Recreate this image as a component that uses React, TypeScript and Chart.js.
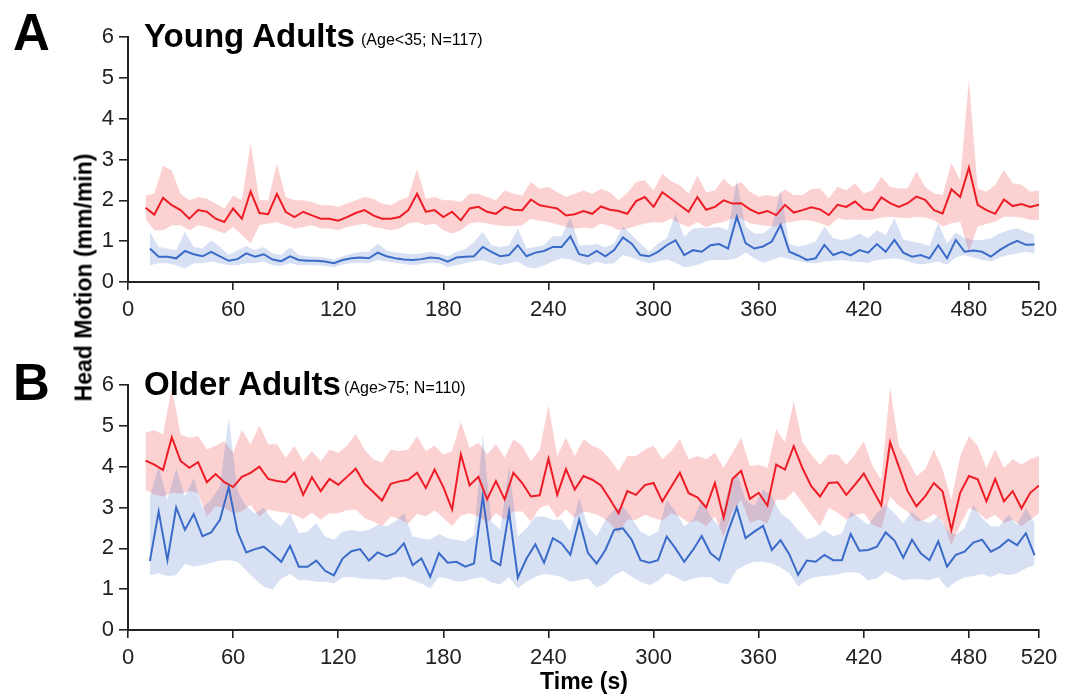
import React, { useEffect, useRef } from "react";
import { Chart, registerables } from "chart.js";

Chart.register(...registerables);

// ---------- sampling grid (seconds) ----------
const SAMPLE_STEP_S = 5;
const RED_START_S = 10;
const BLUE_START_S = 12.5;

const X_TICKS = [0, 60, 120, 180, 240, 300, 360, 420, 480, 520];
const Y_TICKS = [0, 1, 2, 3, 4, 5, 6];

// ---------- Panel A: Young Adults ----------
const A_RED_MEAN = [
  1.82, 1.65, 2.06, 1.88, 1.76, 1.55, 1.76, 1.72, 1.55, 1.47,
  1.80, 1.55, 2.22, 1.69, 1.66, 2.16, 1.72, 1.59, 1.72, 1.63,
  1.55, 1.55, 1.50, 1.59, 1.69, 1.76, 1.63, 1.55, 1.55, 1.59,
  1.76, 2.16, 1.72, 1.76, 1.59, 1.72, 1.51, 1.80, 1.84, 1.72,
  1.67, 1.84, 1.77, 1.76, 2.02, 1.88, 1.84, 1.80, 1.63, 1.66,
  1.74, 1.67, 1.85, 1.77, 1.74, 1.67, 1.98, 2.08, 1.84, 2.20,
  2.04, 1.88, 1.72, 2.08, 1.77, 1.84, 2.00, 1.92, 1.93, 1.78,
  1.68, 1.74, 1.64, 1.89, 1.70, 1.76, 1.83, 1.78, 1.64, 1.89,
  1.84, 1.97, 1.78, 1.76, 2.07, 1.93, 1.84, 1.93, 2.09, 2.01,
  1.76, 1.68, 2.27, 2.08, 2.80, 1.89, 1.76, 1.67, 2.02, 1.86,
  1.91, 1.84, 1.89,
];
const A_RED_UPPER = [
  2.12, 2.16, 2.85, 2.73, 2.16, 2.00, 2.08, 2.04, 1.92, 1.80,
  2.12, 2.00, 3.40, 2.00, 2.00, 2.90, 2.08, 2.00, 2.00, 1.96,
  1.88, 1.88, 1.84, 1.92, 2.00, 2.08, 2.04, 1.92, 1.88, 2.00,
  2.08, 2.77, 2.04, 2.08, 2.00, 2.00, 1.96, 2.16, 2.16, 2.08,
  2.00, 2.24, 2.16, 2.12, 2.45, 2.28, 2.33, 2.20, 2.08, 2.16,
  2.24, 2.16, 2.28, 2.20, 2.00, 2.18, 2.45, 2.49, 2.24, 2.65,
  2.47, 2.37, 2.16, 2.61, 2.20, 2.24, 2.53, 2.33, 2.45, 2.21,
  2.09, 2.13, 2.09, 2.27, 2.13, 2.13, 2.28, 2.29, 2.05, 2.33,
  2.25, 2.42, 2.17, 2.25, 2.58, 2.33, 2.29, 2.29, 2.70, 2.33,
  2.17, 2.13, 2.91, 2.50, 4.95, 2.29, 2.21, 2.38, 2.74, 2.42,
  2.38, 2.21, 2.25,
];
const A_RED_LOWER = [
  1.55, 1.27, 1.27, 1.39, 1.39, 1.27, 1.39, 1.35, 1.27, 1.19,
  1.35, 1.15, 0.95, 1.39, 1.43, 1.47, 1.39, 1.31, 1.35, 1.39,
  1.31, 1.31, 1.27, 1.35, 1.39, 1.43, 1.35, 1.31, 1.27, 1.31,
  1.43, 1.47, 1.39, 1.43, 1.27, 1.19, 1.27, 1.43, 1.47, 1.43,
  1.39, 1.37, 1.37, 1.39, 1.55, 1.50, 1.47, 1.41, 1.35, 1.31,
  1.33, 1.31, 1.43, 1.37, 1.27, 1.31, 1.37, 1.43, 1.47, 1.45,
  1.55, 1.43, 1.35, 1.47, 1.35, 1.43, 1.47, 1.55, 1.56, 1.44,
  1.40, 1.37, 1.36, 1.45, 1.48, 1.52, 1.50, 1.44, 1.36, 1.56,
  1.52, 1.53, 1.52, 1.53, 1.58, 1.60, 1.58, 1.56, 1.60, 1.58,
  1.52, 1.36, 1.44, 1.48, 0.74, 1.36, 1.42, 1.48, 1.60, 1.60,
  1.58, 1.52, 1.52,
];
const A_BLUE_MEAN = [
  0.82, 0.62, 0.62, 0.58, 0.76, 0.68, 0.63, 0.74, 0.63, 0.52,
  0.56, 0.70, 0.62, 0.68, 0.55, 0.51, 0.63, 0.54, 0.52, 0.52,
  0.50, 0.46, 0.54, 0.58, 0.60, 0.58, 0.72, 0.63, 0.58, 0.55,
  0.54, 0.56, 0.60, 0.58, 0.50, 0.60, 0.62, 0.63, 0.86, 0.74,
  0.63, 0.66, 0.90, 0.63, 0.72, 0.76, 0.86, 0.86, 1.12, 0.68,
  0.63, 0.76, 0.63, 0.78, 1.09, 0.94, 0.66, 0.63, 0.74, 0.90,
  1.02, 0.66, 0.78, 0.74, 0.90, 0.93, 0.82, 1.60, 0.95, 0.82,
  0.87, 0.99, 1.40, 0.74, 0.65, 0.54, 0.58, 0.91, 0.66, 0.74,
  0.65, 0.78, 0.72, 0.93, 0.74, 1.03, 0.72, 0.62, 0.66, 0.58,
  0.90, 0.58, 1.03, 0.74, 0.77, 0.74, 0.62, 0.78, 0.91, 1.01,
  0.91, 0.92,
];
const A_BLUE_UPPER = [
  1.23, 0.86, 0.82, 0.78, 1.23, 0.86, 0.82, 1.02, 0.86, 0.66,
  0.78, 0.88, 0.78, 0.86, 0.70, 0.66, 0.86, 0.66, 0.63, 0.62,
  0.60, 0.55, 0.63, 0.70, 0.74, 0.74, 0.94, 0.78, 0.72, 0.70,
  0.68, 0.70, 0.74, 0.70, 0.63, 0.74, 0.80, 0.98, 1.23, 0.90,
  0.86, 0.90, 1.31, 0.82, 0.86, 0.90, 1.12, 1.12, 1.59, 0.90,
  0.90, 0.93, 0.85, 0.94, 1.37, 1.15, 0.94, 0.74, 0.94, 1.07,
  1.67, 1.11, 1.31, 1.33, 1.33, 1.35, 1.27, 2.49, 1.36, 1.19,
  1.19, 1.36, 2.25, 0.93, 0.87, 0.91, 0.99, 1.36, 1.07, 1.03,
  1.07, 1.18, 1.07, 1.27, 1.15, 1.56, 1.04, 0.99, 0.95, 0.88,
  1.44, 0.95, 1.21, 1.07, 1.03, 1.03, 1.07, 1.19, 1.27, 1.31,
  1.23, 1.15,
];
const A_BLUE_LOWER = [
  0.41, 0.46, 0.46, 0.41, 0.33, 0.46, 0.46, 0.50, 0.46, 0.41,
  0.41, 0.46, 0.46, 0.50, 0.41, 0.39, 0.46, 0.41, 0.41, 0.41,
  0.39, 0.36, 0.43, 0.46, 0.47, 0.46, 0.54, 0.50, 0.47, 0.44,
  0.41, 0.44, 0.47, 0.46, 0.37, 0.41, 0.46, 0.50, 0.54, 0.46,
  0.41, 0.46, 0.50, 0.37, 0.33, 0.41, 0.50, 0.58, 0.55, 0.47,
  0.41, 0.50, 0.44, 0.46, 0.66, 0.60, 0.52, 0.46, 0.50, 0.55,
  0.47, 0.36, 0.39, 0.46, 0.54, 0.54, 0.54, 0.58, 0.72, 0.58,
  0.47, 0.54, 0.62, 0.56, 0.52, 0.47, 0.46, 0.50, 0.52, 0.54,
  0.51, 0.49, 0.47, 0.54, 0.56, 0.58, 0.54, 0.47, 0.43, 0.46,
  0.50, 0.42, 0.60, 0.66, 0.60, 0.54, 0.50, 0.60, 0.66, 0.70,
  0.74, 0.70,
];

// ---------- Panel B: Older Adults ----------
const B_RED_MEAN = [
  4.15, 4.05, 3.92, 4.72, 4.14, 3.97, 4.11, 3.62, 3.82, 3.62,
  3.50, 3.75, 3.85, 4.00, 3.70, 3.65, 3.62, 3.85, 3.31, 3.74,
  3.40, 3.70, 3.56, 3.75, 3.95, 3.58, 3.38, 3.17, 3.58, 3.64,
  3.68, 3.85, 3.48, 3.93, 3.50, 2.95, 4.30, 3.54, 3.75, 3.20,
  3.65, 3.20, 3.85, 3.60, 3.27, 3.30, 4.20, 3.31, 3.94, 3.44,
  3.77, 3.68, 3.54, 3.21, 2.86, 3.40, 3.31, 3.55, 3.60, 3.15,
  3.50, 3.85, 3.35, 3.25, 3.00, 3.60, 2.75, 3.70, 3.90, 3.21,
  3.36, 3.05, 4.05, 3.93, 4.50, 3.96, 3.52, 3.27, 3.60, 3.62,
  3.31, 3.56, 3.83, 3.44, 3.05, 4.60, 4.00, 3.40, 3.03, 3.27,
  3.60, 3.39, 2.45, 3.36, 3.77, 3.69, 3.15, 3.70, 3.15, 3.40,
  2.98, 3.36, 3.54,
];
const B_RED_UPPER = [
  4.83, 4.90, 4.79, 5.95, 4.79, 4.71, 4.75, 4.42, 4.51, 4.63,
  4.34, 4.90, 4.55, 5.00, 4.55, 4.55, 4.22, 4.51, 4.13, 4.38,
  4.13, 4.42, 4.34, 4.51, 4.80, 4.42, 4.18, 4.10, 4.42, 4.38,
  4.42, 4.75, 4.38, 4.51, 4.30, 4.38, 5.10, 4.46, 4.59, 4.30,
  4.55, 4.22, 4.67, 4.51, 4.13, 4.42, 5.50, 4.26, 4.71, 4.26,
  4.67, 4.51, 4.42, 4.18, 3.89, 4.26, 4.26, 4.42, 4.51, 4.18,
  4.38, 4.67, 4.18, 4.26, 4.18, 4.34, 3.97, 4.34, 4.71, 4.01,
  4.05, 3.97, 4.92, 4.59, 5.60, 4.59, 4.30, 4.05, 4.30, 4.30,
  4.05, 4.30, 4.63, 4.01, 3.68, 5.95, 4.51, 4.18, 3.77, 3.93,
  4.42, 3.93, 3.19, 4.26, 4.75, 4.51, 3.97, 4.42, 3.97, 4.18,
  4.05, 4.18, 4.26,
];
const B_RED_LOWER = [
  3.44, 3.31, 3.27, 3.36, 3.34, 3.40, 3.36, 2.78, 3.03, 2.99,
  2.86, 2.90, 3.07, 2.78, 2.95, 2.90, 2.88, 2.82, 2.72, 2.88,
  2.70, 2.86, 2.86, 2.93, 2.95, 2.74, 2.66, 2.54, 2.78, 2.72,
  2.60, 2.85, 2.78, 2.93, 2.74, 2.54, 2.80, 2.86, 2.78, 2.62,
  2.86, 2.70, 2.90, 2.90, 2.66, 2.99, 3.07, 2.74, 2.95, 2.74,
  2.90, 2.86, 2.78, 2.62, 2.37, 2.70, 2.70, 2.82, 2.74, 2.68,
  2.86, 2.78, 2.63, 2.68, 2.54, 2.78, 2.29, 2.90, 3.19, 2.62,
  2.70, 2.60, 3.19, 3.19, 3.40, 3.11, 2.82, 2.54, 2.99, 2.88,
  2.70, 2.82, 2.86, 2.57, 2.49, 3.27, 3.04, 2.90, 2.66, 2.70,
  2.85, 2.66, 2.08, 2.57, 2.99, 2.90, 2.70, 2.82, 2.62, 2.70,
  2.54, 2.70, 2.86,
];
const B_BLUE_MEAN = [
  1.69, 2.90, 1.71, 3.00, 2.45, 2.84, 2.30, 2.39, 2.70, 3.50,
  2.41, 1.90, 1.98, 2.04, 1.86, 1.67, 2.06, 1.55, 1.55, 1.70,
  1.45, 1.34, 1.75, 1.93, 1.98, 1.70, 1.90, 1.80, 1.88, 2.12,
  1.59, 1.75, 1.30, 1.88, 1.65, 1.67, 1.55, 1.63, 3.27, 1.71,
  1.59, 2.90, 1.28, 1.75, 2.10, 1.65, 2.25, 2.12, 1.84, 2.70,
  1.89, 1.63, 1.96, 2.45, 2.49, 2.21, 1.71, 1.65, 1.71, 2.29,
  2.00, 1.67, 1.96, 2.30, 1.88, 1.71, 2.41, 3.00, 2.25, 2.41,
  2.55, 1.96, 2.20, 1.85, 1.35, 1.70, 1.67, 1.84, 1.71, 1.71,
  2.35, 1.94, 1.96, 2.04, 2.39, 2.19, 1.77, 2.21, 1.88, 1.71,
  2.17, 1.55, 1.84, 1.92, 2.14, 2.21, 1.92, 2.03, 2.21, 2.08,
  2.37, 1.83,
];
const B_BLUE_UPPER = [
  3.27, 4.00, 3.19, 3.95, 3.27, 3.72, 2.99, 3.19, 3.52, 5.20,
  3.40, 3.03, 2.86, 2.99, 2.70, 2.54, 2.86, 2.37, 2.41, 2.62,
  2.29, 2.21, 2.41, 2.45, 2.41, 2.45, 2.58, 2.54, 2.66, 2.86,
  2.29, 2.25, 2.21, 2.35, 2.25, 2.21, 2.17, 2.33, 4.79, 2.66,
  2.45, 4.01, 2.29, 2.49, 2.78, 2.78, 2.70, 2.70, 2.41, 3.23,
  2.54, 2.29, 2.70, 2.95, 3.03, 2.74, 2.41, 2.30, 2.41, 3.19,
  2.90, 2.54, 2.70, 3.19, 2.78, 2.54, 3.40, 3.85, 3.19, 3.03,
  3.44, 3.27, 2.86, 2.70, 2.45, 2.22, 2.29, 2.45, 2.29, 2.37,
  2.90, 2.74, 2.58, 2.86, 3.07, 2.86, 2.62, 2.90, 2.70, 2.62,
  2.78, 2.45, 2.33, 2.49, 3.07, 2.74, 2.54, 2.54, 2.82, 2.58,
  2.99, 2.62,
];
const B_BLUE_LOWER = [
  1.34, 1.39, 1.32, 1.34, 1.62, 1.55, 1.59, 1.65, 1.70, 1.71,
  1.67, 1.45, 1.24, 1.06, 0.99, 1.26, 1.37, 1.22, 1.22, 1.18,
  1.18, 1.14, 1.29, 1.30, 1.26, 1.24, 1.24, 1.22, 1.29, 1.30,
  1.22, 1.14, 1.02, 1.30, 1.26, 1.18, 1.20, 1.26, 1.29, 1.16,
  1.12, 1.29, 1.02, 1.18, 1.30, 1.37, 1.34, 1.30, 1.18, 1.22,
  1.26, 1.04, 1.14, 1.34, 1.45, 1.30, 1.18, 1.10, 1.20, 1.39,
  1.30, 1.18, 1.26, 1.30, 1.29, 1.16, 1.12, 1.47, 1.59, 1.67,
  1.67, 1.63, 1.53, 1.39, 1.06, 1.22, 1.30, 1.32, 1.34, 1.39,
  1.42, 1.39, 1.22, 1.26, 1.43, 1.32, 1.22, 1.25, 1.24, 1.22,
  1.29, 1.02, 1.18, 1.29, 1.32, 1.37, 1.30, 1.39, 1.34, 1.39,
  1.51, 1.59,
];

// ---------- styles ----------
const FONT = '"Liberation Sans", Arial, Helvetica, sans-serif';
const RED = "#ee1d25";
const BLUE = "#3a6bc8";
const RED_BAND = "rgba(238, 45, 52, 0.22)";
const BLUE_BAND = "rgba(58, 107, 200, 0.2)";
const AXIS = "#222222";

const timesFor = (start: number, n: number) =>
  Array.from({ length: n }, (_, i) => start + i * SAMPLE_STEP_S);

const toPoints = (start: number, vals: number[]) => {
  const t = timesFor(start, vals.length);
  return vals.map((v, i) => ({ x: t[i], y: v }));
};

type PanelData = {
  redMean: number[];
  redUp: number[];
  redLo: number[];
  blueMean: number[];
  blueUp: number[];
  blueLo: number[];
};

function makeConfig(p: PanelData, padTop: number, xAxisH: number): any {
  const band = (vals: number[], start: number, fill: any, color: string, order: number) => ({
    data: toPoints(start, vals),
    borderWidth: 0,
    borderColor: "rgba(0,0,0,0)",
    pointRadius: 0,
    fill,
    backgroundColor: color,
    order,
  });
  return {
    type: "line",
    data: {
      datasets: [
        band(p.redUp, RED_START_S, "+1", RED_BAND, 3),
        band(p.redLo, RED_START_S, false, "rgba(0,0,0,0)", 3),
        band(p.blueUp, BLUE_START_S, "+1", BLUE_BAND, 2),
        band(p.blueLo, BLUE_START_S, false, "rgba(0,0,0,0)", 2),
        {
          data: toPoints(RED_START_S, p.redMean),
          borderColor: RED,
          borderWidth: 2,
          pointRadius: 0,
          fill: false,
          order: 1,
        },
        {
          data: toPoints(BLUE_START_S, p.blueMean),
          borderColor: BLUE,
          borderWidth: 2,
          pointRadius: 0,
          fill: false,
          order: 0,
        },
      ],
    },
    options: {
      animation: false,
      responsive: false,
      events: [],
      layout: { padding: { left: 0, right: 35, top: padTop, bottom: 0 } },
      plugins: {
        legend: { display: false },
        tooltip: { enabled: false },
        title: { display: false },
      },
      scales: {
        x: {
          type: "linear",
          min: 0,
          max: 520,
          afterBuildTicks: (s: any) => {
            s.ticks = X_TICKS.map((v) => ({ value: v }));
          },
          afterFit: (s: any) => {
            s.height = xAxisH;
          },
          grid: {
            display: true,
            drawOnChartArea: false,
            drawTicks: true,
            tickLength: 8,
            color: AXIS,
            lineWidth: 1.6,
          },
          border: { display: true, color: AXIS, width: 2 },
          ticks: {
            font: { family: FONT, size: 22 },
            color: AXIS,
            padding: 7,
            maxRotation: 0,
            autoSkip: false,
          },
        },
        y: {
          type: "linear",
          min: 0,
          max: 6,
          afterBuildTicks: (s: any) => {
            s.ticks = Y_TICKS.map((v) => ({ value: v }));
          },
          afterFit: (s: any) => {
            s.width = 128;
          },
          grid: {
            display: true,
            drawOnChartArea: false,
            drawTicks: true,
            tickLength: 9,
            color: AXIS,
            lineWidth: 1.6,
          },
          border: { display: true, color: AXIS, width: 2 },
          ticks: {
            font: { family: FONT, size: 22 },
            color: AXIS,
            padding: 5,
          },
        },
      },
    },
  };
}

function ChartCanvas(props: { data: PanelData; top: number; height: number; padTop: number; xAxisH: number }) {
  const ref = useRef<HTMLCanvasElement | null>(null);
  useEffect(() => {
    if (!ref.current) return;
    const chart = new Chart(ref.current, makeConfig(props.data, props.padTop, props.xAxisH));
    return () => chart.destroy();
  }, []);
  return (
    <canvas
      ref={ref}
      width={1074}
      height={props.height}
      style={{ position: "absolute", left: 0, top: props.top, width: 1074, height: props.height }}
    />
  );
}

function Label(props: { text: string; left: number; baseline: number; size: number; bold?: boolean }) {
  return (
    <div
      style={{
        position: "absolute",
        left: props.left,
        top: props.baseline - 0.8465 * props.size,
        fontFamily: FONT,
        fontSize: props.size,
        fontWeight: props.bold ? 700 : 400,
        lineHeight: 1,
        color: "#000",
        whiteSpace: "nowrap",
      }}
    >
      {props.text}
    </div>
  );
}

export default function App() {
  const panelA: PanelData = {
    redMean: A_RED_MEAN,
    redUp: A_RED_UPPER,
    redLo: A_RED_LOWER,
    blueMean: A_BLUE_MEAN,
    blueUp: A_BLUE_UPPER,
    blueLo: A_BLUE_LOWER,
  };
  const panelB: PanelData = {
    redMean: B_RED_MEAN,
    redUp: B_RED_UPPER,
    redLo: B_RED_LOWER,
    blueMean: B_BLUE_MEAN,
    blueUp: B_BLUE_UPPER,
    blueLo: B_BLUE_LOWER,
  };
  return (
    <div
      style={{
        position: "absolute",
        left: 0,
        top: 0,
        width: 1074,
        height: 700,
        overflow: "hidden",
        background: "#fff",
      }}
    >
      <ChartCanvas data={panelA} top={0} height={340} padTop={37} xAxisH={58} />
      <ChartCanvas data={panelB} top={340} height={360} padTop={45} xAxisH={70} />

      <Label text="A" left={13} baseline={50} size={51} bold />
      <Label text="Young Adults" left={144} baseline={46.5} size={33} bold />
      <Label text="(Age<35; N=117)" left={361} baseline={46} size={16} />

      <Label text="B" left={13} baseline={400} size={51} bold />
      <Label text="Older Adults" left={144} baseline={395} size={33} bold />
      <Label text="(Age>75; N=110)" left={344} baseline={393.5} size={16} />

      <div
        style={{
          position: "absolute",
          left: 84 - 200,
          top: 277.5 - 11.5,
          width: 400,
          height: 23,
          textAlign: "center",
          fontFamily: FONT,
          fontSize: 23,
          fontWeight: 700,
          lineHeight: 1,
          transform: "rotate(-90deg)",
          transformOrigin: "50% 50%",
          whiteSpace: "nowrap",
        }}
      >
        Head Motion (mm/min)
      </div>
      <div
        style={{
          position: "absolute",
          left: 584 - 100,
          top: 689 - 0.8465 * 23,
          width: 200,
          textAlign: "center",
          fontFamily: FONT,
          fontSize: 23,
          fontWeight: 700,
          lineHeight: 1,
          whiteSpace: "nowrap",
        }}
      >
        Time (s)
      </div>
    </div>
  );
}
